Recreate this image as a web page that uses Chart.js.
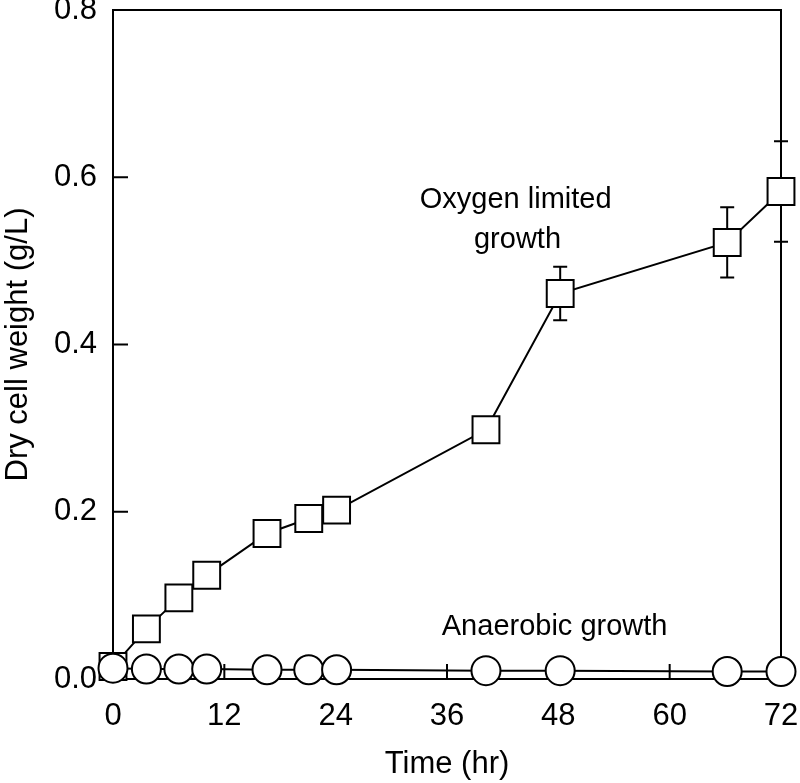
<!DOCTYPE html>
<html>
<head>
<meta charset="utf-8">
<script src="https://cdn.jsdelivr.net/npm/chart.js@4"></script>
<style>
  html, body { margin: 0; padding: 0; background: #fff; }
  #wrap { width: 800px; height: 783px; }
</style>
</head>
<body>
<div id="wrap"><canvas id="growthChart" width="800" height="783"></canvas></div>
<script>
// sampling times (hr)
const hours = [0, 3.6, 7.1, 10.1, 16.6, 21.1, 24.1, 40.2, 48.2, 66.2, 72];
// dry cell weight (g/L)
const oxygenLimited = [0.015, 0.060, 0.097, 0.124, 0.174, 0.192, 0.202, 0.298, 0.461, 0.522, 0.583];
const oxygenErr = [0, 0, 0, 0, 0, 0, 0, 0, 0.032, 0.042, 0.060];
const anaerobic = [0.013, 0.012, 0.012, 0.012, 0.011, 0.011, 0.011, 0.010, 0.010, 0.009, 0.009];
const xTicks = [0, 12, 24, 36, 48, 60, 72];
const yTicks = [0, 0.2, 0.4, 0.6, 0.8];
// text labels placed in data units
const notes = [
  { text: "Oxygen limited", x: 43.4, y: 0.573 },
  { text: "growth", x: 43.6, y: 0.525 },
  { text: "Anaerobic growth", x: 47.6, y: 0.062 }
];

const FONT = "'Liberation Sans', Arial, sans-serif";

function toPoints(ys) {
  return hours.map((h, i) => ({ x: h, y: ys[i] }));
}

// error bars under the squares
const errorBars = {
  id: "errorBars",
  beforeDatasetsDraw(chart) {
    const { ctx, scales: { x, y } } = chart;
    ctx.save();
    ctx.strokeStyle = "#000";
    ctx.lineWidth = 2;
    hours.forEach((h, i) => {
      if (!oxygenErr[i]) return;
      const px = x.getPixelForValue(h);
      const top = y.getPixelForValue(oxygenLimited[i] + oxygenErr[i]);
      const bot = y.getPixelForValue(oxygenLimited[i] - oxygenErr[i]);
      ctx.beginPath();
      ctx.moveTo(px, top); ctx.lineTo(px, bot);
      ctx.moveTo(px - 7, top); ctx.lineTo(px + 7, top);
      ctx.moveTo(px - 7, bot); ctx.lineTo(px + 7, bot);
      ctx.stroke();
    });
    ctx.restore();
  }
};

// box frame, inward ticks, text notes
const frame = {
  id: "frame",
  beforeDatasetsDraw(chart) {
    const { ctx, chartArea: a, scales: { x, y } } = chart;
    ctx.save();
    ctx.strokeStyle = "#000";
    ctx.lineWidth = 2;
    ctx.strokeRect(a.left, a.top, a.right - a.left, a.bottom - a.top);
    ctx.beginPath();
    xTicks.forEach(t => {
      const px = x.getPixelForValue(t);
      ctx.moveTo(px, a.bottom); ctx.lineTo(px, a.bottom - 15);
    });
    yTicks.forEach(t => {
      const py = y.getPixelForValue(t);
      ctx.moveTo(a.left, py); ctx.lineTo(a.left + 15, py);
    });
    ctx.stroke();
    ctx.restore();
  },
  afterDatasetsDraw(chart) {
    const { ctx, scales: { x, y } } = chart;
    ctx.save();
    ctx.fillStyle = "#000";
    ctx.font = "29px " + FONT;
    ctx.textAlign = "center";
    ctx.textBaseline = "middle";
    notes.forEach(n => ctx.fillText(n.text, x.getPixelForValue(n.x), y.getPixelForValue(n.y)));
    ctx.restore();
  }
};

// keep tick labels from pushing the plot box around
function noOverhang(s) {
  s.paddingTop = 0; s.paddingBottom = 0; s.paddingLeft = 0; s.paddingRight = 0;
}

new Chart(document.getElementById("growthChart"), {
  type: "scatter",
  data: {
    datasets: [
      {
        label: "Anaerobic growth",
        data: toPoints(anaerobic),
        showLine: true,
        borderColor: "#000",
        borderWidth: 2,
        pointStyle: "circle",
        pointRadius: 14.5,
        pointBackgroundColor: "#fff",
        pointBorderColor: "#000",
        pointBorderWidth: 2,
        clip: false
      },
      {
        label: "Oxygen limited growth",
        data: toPoints(oxygenLimited),
        showLine: true,
        borderColor: "#000",
        borderWidth: 2,
        pointStyle: "rect",
        pointRadius: 19,
        pointBackgroundColor: "#fff",
        pointBorderColor: "#000",
        pointBorderWidth: 2,
        clip: false
      }
    ]
  },
  options: {
    responsive: false,
    animation: false,
    events: [],
    layout: { autoPadding: false, padding: { top: 10, right: 19, left: 0, bottom: 0 } },
    plugins: { legend: { display: false }, tooltip: { enabled: false } },
    scales: {
      x: {
        type: "linear",
        min: 0,
        max: 72,
        afterBuildTicks: s => { s.ticks = xTicks.map(v => ({ value: v })); },
        afterFit: s => { s.height = 104; noOverhang(s); },
        grid: { display: false, drawTicks: false },
        border: { display: false },
        ticks: { color: "#000", padding: 19, font: { family: FONT, size: 31 } },
        title: { display: true, text: "Time (hr)", color: "#000", padding: { top: 0, bottom: 0 }, font: { family: FONT, size: 31 } }
      },
      y: {
        type: "linear",
        min: 0,
        max: 0.8,
        afterBuildTicks: s => { s.ticks = yTicks.map(v => ({ value: v })); },
        afterFit: s => { s.width = 113; noOverhang(s); },
        grid: { display: false, drawTicks: false },
        border: { display: false },
        ticks: { color: "#000", padding: 16, font: { family: FONT, size: 31 }, callback: v => v.toFixed(1) },
        title: { display: true, text: "Dry cell weight (g/L)", color: "#000", padding: { top: 0, bottom: 0 }, font: { family: FONT, size: 31 } }
      }
    }
  },
  plugins: [errorBars, frame]
});
</script>
</body>
</html>
